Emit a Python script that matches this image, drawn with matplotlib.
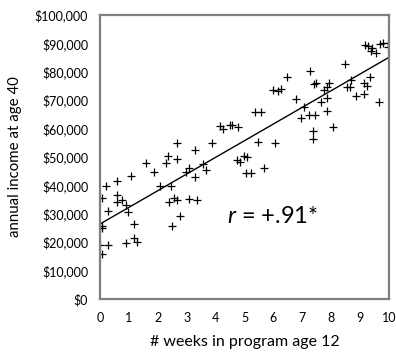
import matplotlib
matplotlib.use("Agg")
import matplotlib.pyplot as plt
import numpy as np

plt.rcParams['font.family'] = ['Lato', 'DejaVu Sans']
plt.rcParams['mathtext.fontset'] = 'custom'
plt.rcParams['mathtext.it'] = 'Lato:italic'
plt.rcParams['mathtext.rm'] = 'Lato'

weeks = [0.00, 0.06, 0.08, 0.08, 0.08, 0.20, 0.29, 0.29, 0.58, 0.58,
         0.58, 0.77, 0.89, 0.90, 0.98, 1.07, 1.18, 1.18, 1.28, 1.58,
         1.87, 2.08, 2.28, 2.37, 2.38, 2.47, 2.48, 2.57, 2.67, 2.67,
         2.67, 2.78, 2.98, 3.08, 3.08, 3.27, 3.27, 3.37, 3.58, 3.68,
         3.86, 4.16, 4.27, 4.49, 4.57, 4.78, 4.73, 4.84, 4.98, 5.07,
         5.04, 5.22, 5.37, 5.56, 5.47, 5.67, 5.97, 6.16, 6.27, 6.07,
         6.47, 6.77, 6.96, 7.07, 7.24, 7.28, 7.36, 7.36, 7.39, 7.47,
         7.44, 7.64, 7.76, 7.84, 7.85, 7.85, 7.93, 8.07, 8.47, 8.56,
         8.66, 8.67, 8.85, 9.14, 9.23, 9.14, 9.34, 9.66, 9.17, 9.26,
         9.42, 9.39, 9.55, 9.68, 9.78, 9.97, 9.97]
income = [19000, 25700, 24900, 16000, 35500, 39900, 31000, 19000, 41500, 36600,
          34300, 34700, 33100, 19700, 30600, 43200, 26300, 21600, 20200, 47800,
          44600, 39900, 47900, 50500, 34300, 39700, 25600, 35500, 55000, 49200,
          34700, 29300, 44600, 46200, 35100, 52600, 43100, 34900, 47600, 45400,
          54900, 60900, 59900, 61200, 61200, 60500, 48900, 48300, 50500, 50000,
          44400, 44300, 66000, 65700, 55400, 46000, 73600, 73400, 74100, 54800,
          78300, 70300, 63800, 67700, 64800, 80400, 59000, 56400, 75600, 76200,
          64800, 69300, 73600, 74500, 70700, 66100, 76200, 60700, 82600, 74500,
          74500, 77100, 71400, 76200, 75000, 72100, 78300, 69500, 89300, 89200,
          88300, 87300, 86700, 89800, 90200, 90000, 88800]

fit_x = [0, 10]
fit_y = [26400, 85100]

x_ticks = list(range(0, 11))
y_ticks = list(range(0, 100001, 10000))
y_tick_labels = ["\\$" + f"{v:,}" for v in y_ticks]

fig = plt.figure(figsize=(3.96, 3.54), dpi=100)
ax = fig.add_axes([100/396, 1-299/354, 289/396, 284/354])

ax.plot(weeks, income, linestyle='none', marker='+', color='black',
        markersize=5.5, markeredgewidth=0.9)
ax.plot(fit_x, fit_y, color='black', linewidth=1.0)

ax.set_xlim(0, 10)
ax.set_ylim(0, 100000)
ax.set_xticks(x_ticks)
ax.set_xticklabels([str(t) for t in x_ticks])
ax.set_yticks(y_ticks)
ax.set_yticklabels(y_tick_labels)
ax.tick_params(length=0, labelsize=9, colors='black')
ax.tick_params(axis='x', pad=9)
ax.tick_params(axis='y', pad=8.5)

for s in ax.spines.values():
    s.set_color('#7f7f7f')
    s.set_linewidth(1.6)

ax.set_xlabel('# weeks in program age 12', fontsize=11.5, labelpad=8)
ax.set_ylabel('annual income at age 40', fontsize=10.8, labelpad=9)

ax.text(4.41, 28900, r'$r$ = +.91*', fontsize=17, va='center', ha='left')

fig.savefig('out.png', dpi=100)
